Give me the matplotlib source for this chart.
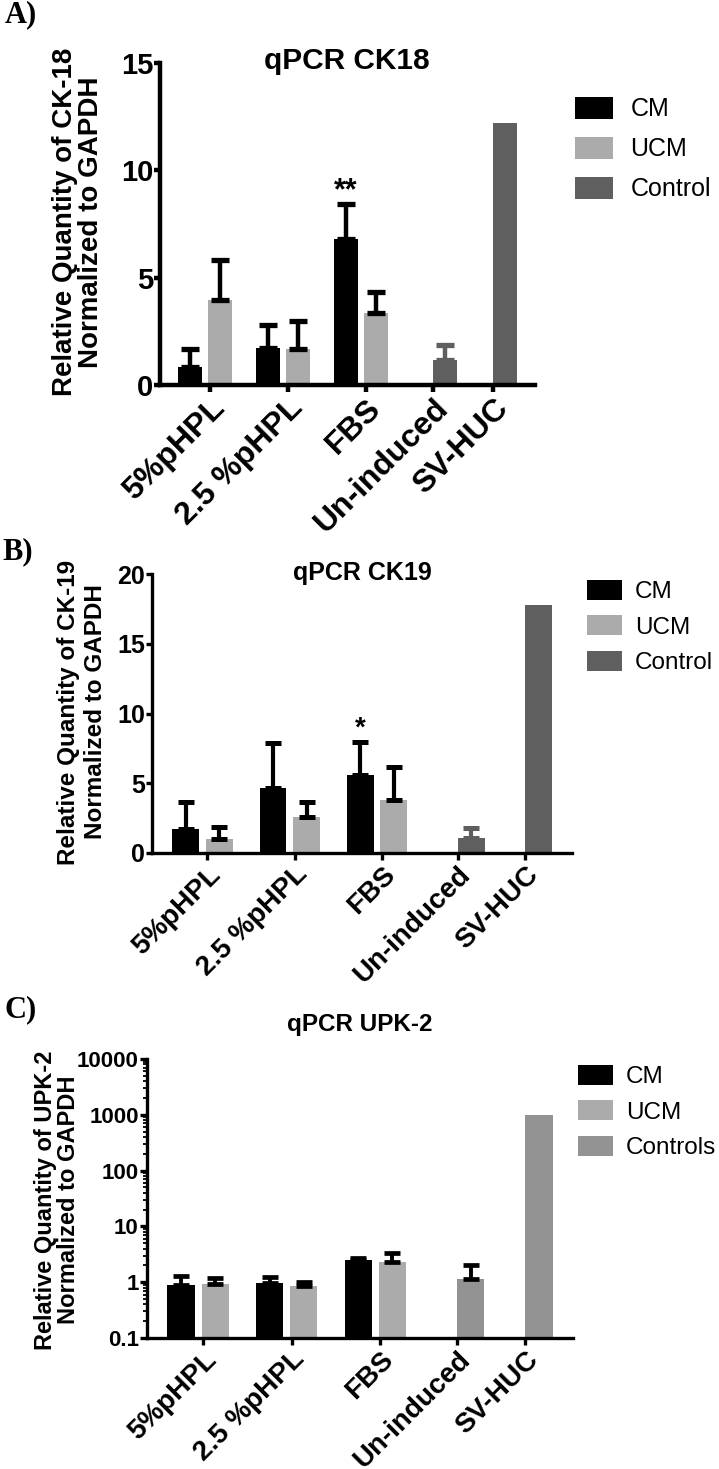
import numpy as np
import matplotlib
matplotlib.use("Agg")
import matplotlib.pyplot as plt
from matplotlib.ticker import FixedLocator, LogLocator, NullFormatter, FuncFormatter

plt.rcParams["font.family"] = ["Liberation Sans", "DejaVu Sans"]

# Data
categories = ["5%pHPL", "2.5 %pHPL", "FBS", "Un-induced", "SV-HUC"]

ck18_cm = [0.84, 1.72, 6.8]
ck18_cm_sd = [0.85, 1.07, 1.65]
ck18_ucm = [3.95, 1.67, 3.35]
ck18_ucm_sd = [1.85, 1.33, 0.98]
ck18_ctl = [1.16, 12.2]
ck18_ctl_sd = [0.7, 0.0]

ck19_cm = [1.7, 4.64, 5.57]
ck19_cm_sd = [1.94, 3.22, 2.36]
ck19_ucm = [1.0, 2.57, 3.79]
ck19_ucm_sd = [0.86, 1.07, 2.41]
ck19_ctl = [1.07, 17.8]
ck19_ctl_sd = [0.72, 0.0]

upk2_cm = [0.88, 0.96, 2.47]
upk2_cm_sd = [0.40, 0.27, 0.23]
upk2_ucm = [0.92, 0.85, 2.28]
upk2_ucm_sd = [0.26, 0.15, 1.02]
upk2_ctl = [1.13, 1000.0]
upk2_ctl_sd = [0.87, 0.0]

W, H = 719, 1469
fig = plt.figure(figsize=(W / 100, H / 100), dpi=100)


def px_axes(l, t, r, b):
    return fig.add_axes([l / W, 1 - b / H, (r - l) / W, (b - t) / H])


# layout of the grouped bars (slot units)
group_start = np.array([0.6, 3.2, 5.8, 9.1, 11.1])
bar_w = 0.8


def draw_panel(ax, cm, cm_sd, ucm, ucm_sd, ctl, ctl_sd, ctl_color, ctl_label,
               ctl_err_color, lw, cs, fs):
    x_cm = group_start[:3]
    x_ucm = group_start[:3] + 1.0
    x_ctl = group_start[3:]
    b1 = ax.bar(x_cm, cm, width=bar_w, align="edge", color="black", label="CM", zorder=2)
    b2 = ax.bar(x_ucm, ucm, width=bar_w, align="edge", color="#ababab", label="UCM", zorder=2)
    b3 = ax.bar(x_ctl, ctl, width=bar_w, align="edge", color=ctl_color, label=ctl_label, zorder=2)
    for xs, ys, sds, col in [(x_cm, cm, cm_sd, "black"), (x_ucm, ucm, ucm_sd, "black"),
                             (x_ctl, ctl, ctl_sd, ctl_err_color)]:
        sds = np.asarray(sds)
        keep = sds > 0
        ax.errorbar(np.asarray(xs)[keep] + bar_w / 2, np.asarray(ys)[keep],
                    yerr=[np.zeros(keep.sum()), sds[keep]], fmt="none", ecolor=col,
                    elinewidth=lw, capsize=cs, capthick=lw + 0.6, zorder=3)
    ticks = np.concatenate([group_start[:3] + 1.05, group_start[3:]])
    ax.set_xticks(ticks)
    ax.set_xticklabels(categories, rotation=45, ha="right", va="top",
                       rotation_mode="anchor", fontsize=fs, fontweight="bold")
    ax.set_xlim(0, 12.5)
    for s in ["top", "right"]:
        ax.spines[s].set_visible(False)
    return [b1, b2, b3], x_cm


# ---------------- Panel A ----------------
axA = px_axes(160, 63, 535, 385)
hA, xA = draw_panel(axA, ck18_cm, ck18_cm_sd, ck18_ucm, ck18_ucm_sd, ck18_ctl, ck18_ctl_sd,
                    "#5f5f5f", "Control", "#5f5f5f", 3.2, 6.5, 23)
axA.set_ylim(0, 15)
axA.set_yticks([0, 5, 10, 15])
for s in ["left", "bottom"]:
    axA.spines[s].set_linewidth(3.2)
axA.tick_params(axis="y", length=4, width=3.2, pad=1, labelsize=21)
axA.tick_params(axis="x", length=5, width=3.2, pad=1)
for t in axA.get_yticklabels():
    t.set_fontweight("bold")
axA.annotate("**", xy=(xA[2] + bar_w / 2, ck18_cm[2] + ck18_cm_sd[2]), xytext=(0, 3),
             textcoords="offset points", ha="center", va="baseline", fontsize=22, fontweight="bold")
axA.legend(handles=hA, loc="upper left", bbox_to_anchor=(575 / W, 1 - 97 / H),
           bbox_transform=fig.transFigure, frameon=False, fontsize=18, borderpad=0,
           borderaxespad=0, handlelength=1.52, handleheight=0.96, labelspacing=0.62,
           handletextpad=0.7)
fig.text(347 / W, 1 - 61 / H, "qPCR CK18", ha="center", va="center", fontsize=21.5, fontweight="bold")
fig.text(78 / W, 1 - 222 / H, "Relative Quantity of CK-18\nNormalized to GAPDH", rotation=90,
         ha="center", va="center", fontsize=20, fontweight="bold", linespacing=1.02,
         multialignment="center")
fig.text(5 / W, 1 - 15 / H, "A)", ha="left", va="center", fontsize=22, fontweight="bold",
         family="Liberation Serif")

# ---------------- Panel B ----------------
axB = px_axes(152, 574, 572, 853)
hB, xB = draw_panel(axB, ck19_cm, ck19_cm_sd, ck19_ucm, ck19_ucm_sd, ck19_ctl, ck19_ctl_sd,
                    "#5f5f5f", "Control", "#5f5f5f", 3.0, 5.5, 20)
axB.set_ylim(0, 20)
axB.set_yticks([0, 5, 10, 15, 20])
for s in ["left", "bottom"]:
    axB.spines[s].set_linewidth(2.4)
axB.tick_params(axis="y", length=4, width=2.4, pad=1, labelsize=18)
axB.tick_params(axis="x", length=5, width=2.4, pad=1)
for t in axB.get_yticklabels():
    t.set_fontweight("bold")
axB.annotate("*", xy=(xB[2] + bar_w / 2, ck19_cm[2] + ck19_cm_sd[2]), xytext=(0, 5),
             textcoords="offset points", ha="center", va="baseline", fontsize=20, fontweight="bold")
axB.legend(handles=hB, loc="upper left", bbox_to_anchor=(587 / W, 1 - 580 / H),
           bbox_transform=fig.transFigure, frameon=False, fontsize=17.5, borderpad=0,
           borderaxespad=0, handlelength=1.42, handleheight=0.88, labelspacing=0.5,
           handletextpad=0.55)
fig.text(362 / W, 1 - 573 / H, "qPCR CK19", ha="center", va="center", fontsize=18, fontweight="bold")
fig.text(82 / W, 1 - 712 / H, "Relative Quantity of CK-19\nNormalized to GAPDH", rotation=90,
         ha="center", va="center", fontsize=17.5, fontweight="bold", linespacing=1.22,
         multialignment="center")
fig.text(2 / W, 1 - 552 / H, "B)", ha="left", va="center", fontsize=22, fontweight="bold",
         family="Liberation Serif")

# ---------------- Panel C ----------------
axC = px_axes(147, 1059, 573, 1338)
axC.set_yscale("log")
hC, xC = draw_panel(axC, upk2_cm, upk2_cm_sd, upk2_ucm, upk2_ucm_sd, upk2_ctl, upk2_ctl_sd,
                    "#939393", "Controls", "black", 2.8, 5.5, 20)
axC.set_ylim(0.1, 10000)
axC.yaxis.set_major_locator(FixedLocator([0.1, 1, 10, 100, 1000, 10000]))
axC.yaxis.set_major_formatter(FuncFormatter(lambda v, p: f"{v:g}"))
axC.yaxis.set_minor_locator(LogLocator(base=10, subs=np.arange(2, 10), numticks=20))
axC.yaxis.set_minor_formatter(NullFormatter())
for s in ["left", "bottom"]:
    axC.spines[s].set_linewidth(2.4)
axC.tick_params(axis="y", which="major", length=5, width=2.4, pad=1, labelsize=16)
axC.tick_params(axis="y", which="minor", length=3, width=1.3)
axC.tick_params(axis="x", length=5, width=2.4, pad=1)
for t in axC.get_yticklabels():
    t.set_fontweight("bold")
axC.legend(handles=hC, loc="upper left", bbox_to_anchor=(578 / W, 1 - 1065 / H),
           bbox_transform=fig.transFigure, frameon=False, fontsize=17.5, borderpad=0,
           borderaxespad=0, handlelength=1.42, handleheight=0.88, labelspacing=0.5,
           handletextpad=0.55)
fig.text(360 / W, 1 - 1024 / H, "qPCR UPK-2", ha="center", va="center", fontsize=17.5,
         fontweight="bold")
fig.text(57 / W, 1 - 1200 / H, "Relative Quantity of UPK-2\nNormalized to GAPDH", rotation=90,
         ha="center", va="center", fontsize=17, fontweight="bold", linespacing=1.0,
         multialignment="center")
fig.text(5 / W, 1 - 1010 / H, "C)", ha="left", va="center", fontsize=22, fontweight="bold",
         family="Liberation Serif")

fig.savefig("out.png", dpi=100)
